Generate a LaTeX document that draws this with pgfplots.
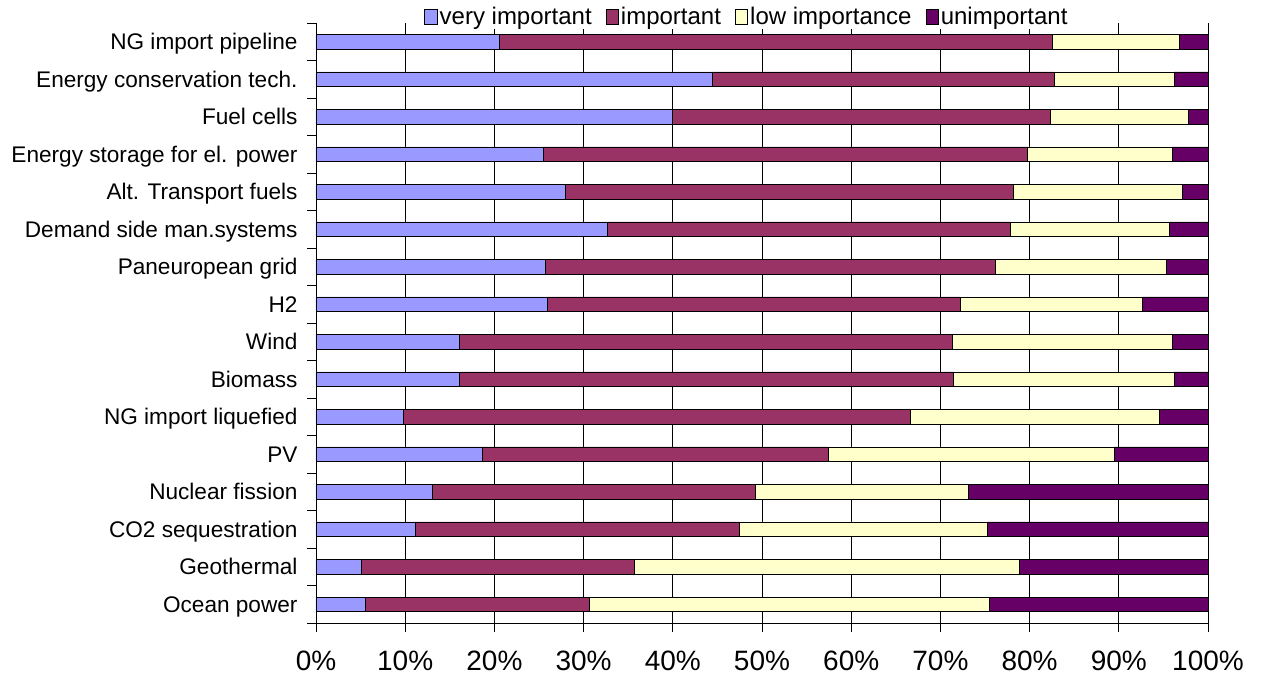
\documentclass[border=0pt]{standalone}
\usepackage{pgfplots}
\usepackage{pgfplotstable}
\pgfplotsset{compat=1.18}
\usepackage{fontspec}
\setmainfont{Liberation Sans}

\definecolor{vimp}{HTML}{9999FF}
\definecolor{imp}{HTML}{993366}
\definecolor{lowi}{HTML}{FFFFCC}
\definecolor{unimp}{HTML}{660066}

% shares of answers (%) per technology, bottom row first
\pgfplotstableread{
y  vi    im    lo    un
0  5.5   25.2  44.8  24.5
1  5.1   30.6  43.2  21.1
2  11.1  36.4  27.8  24.7
3  13.0  36.3  23.8  26.9
4  18.6  38.8  32.1  10.5
5  9.8   56.8  28.0  5.4
6  16.1  55.4  24.7  3.8
7  16.1  55.2  24.7  4.0
8  25.9  46.3  20.4  7.4
9  25.7  50.5  19.1  4.7
10 32.7  45.1  17.9  4.3
11 28.0  50.2  18.9  2.9
12 25.5  54.3  16.2  4.0
13 39.9  42.4  15.5  2.2
14 44.4  38.4  13.4  3.8
15 20.6  61.9  14.3  3.2
}\shares

\begin{document}
\begin{tikzpicture}
\useasboundingbox (-316bp,-56bp) rectangle (948bp,623bp);
\begin{axis}[
  at={(0,0)}, anchor=south west,
  scale only axis, width=892bp, height=600bp,
  xbar stacked, bar width=14.5bp,
  xmin=0, xmax=100, ymin=-0.5, ymax=15.5,
  axis x line*=bottom, axis y line*=left,
  axis line style={-, black, line width=0.8bp},
  xtick={0,10,...,100},
  xticklabels={0\%,10\%,20\%,30\%,40\%,50\%,60\%,70\%,80\%,90\%,100\%},
  xtick align=outside, xtick pos=bottom,
  major tick length=9bp,
  tick style={black, line width=0.8bp},
  xmajorgrids, grid style={black, line width=0.7bp},
  ytick={-0.5,0.5,...,15.5}, yticklabels={},
  ytick align=outside, ytick pos=left,
  extra y ticks={0,1,...,15},
  extra y tick labels={Ocean power,Geothermal,CO2 sequestration,Nuclear fission,PV,NG import liquefied,Biomass,Wind,H2,Paneuropean grid,Demand side man.systems,Alt. Transport fuels,Energy storage for el. power,Fuel cells,Energy conservation tech.,NG import pipeline},
  extra y tick style={major tick style={draw=none},
    yticklabel style={anchor=base east, xshift=-6bp, yshift=-8bp}},
  yticklabel style={font=\fontsize{22.6bp}{27bp}\selectfont},
  xticklabel style={font=\fontsize{28bp}{32bp}\selectfont, yshift=-15bp},
  legend columns=4,
  legend style={at={(rel axis cs:0.4832,1)}, yshift=6bp, anchor=center,
    fill=white, draw=none, inner xsep=6bp, inner ysep=2bp,
    font=\fontsize{24bp}{28bp}\selectfont,
    nodes={inner xsep=2bp, inner ysep=1bp},
    /tikz/every odd column/.append style={column sep=0bp},
    /tikz/every even column/.append style={column sep=12bp}},
  legend image code/.code={\draw[#1, line width=0.7bp] (0bp,-7.5bp) rectangle (12.5bp,8bp);},
]
\addplot[fill=vimp, draw=black, line width=0.7bp] table[x=vi, y=y]{\shares};
\addplot[fill=imp, draw=black, line width=0.7bp] table[x=im, y=y]{\shares};
\addplot[fill=lowi, draw=black, line width=0.7bp] table[x=lo, y=y]{\shares};
\addplot[fill=unimp, draw=black, line width=0.7bp] table[x=un, y=y]{\shares};
\legend{very important, important, low importance, unimportant}
\end{axis}
\end{tikzpicture}
\end{document}
